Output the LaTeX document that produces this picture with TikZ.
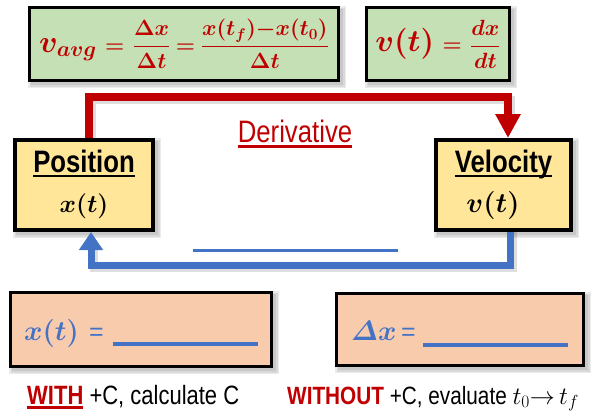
\RequirePackage{fix-cm}
\documentclass[tikz,border=0pt]{standalone}
\usepackage{fontspec}
\setmainfont{Liberation Sans}
\newfontfamily\nar{Liberation Sans}[FakeStretch=0.83]
\usetikzlibrary{arrows.meta,backgrounds}
\definecolor{myred}{HTML}{C00000}
\definecolor{myblue}{HTML}{4472C4}
\definecolor{mygreen}{HTML}{C5E0B4}
\definecolor{myyellow}{HTML}{FFE699}
\definecolor{mypeach}{HTML}{F8CBAD}
\newcommand\myul[3]{\setbox0\hbox{#1}\rlap{\rule[#2]{\wd0}{#3}}\box0}
\newcommand\bmth[1]{{\boldmath#1}}
\newcommand\itDelta{\mathchar"0101}
\newcommand\formA{\bmth{\fontsize{31}{31}\selectfont$v_{avg}$\fontsize{22}{22}\selectfont$\mkern6mu\mathord{=}\mkern6mu\displaystyle\frac{\Delta x}{\Delta t}\mkern4mu\mathord{=}\mkern4mu\frac{x(t_f){-}x(t_0)}{\Delta t}$}}
\newcommand\formB{\bmth{\fontsize{31}{31}\selectfont$v(t)$\fontsize{22}{22}\selectfont$\mkern6mu\mathord{=}\mkern6mu\displaystyle\frac{dx}{dt}$}}
\begin{document}
\begin{tikzpicture}[x=1pt,y=-1pt,
  boxbase/.style={draw=black, inner sep=0pt},
  greenbox/.style={boxbase, line width=3pt, fill=mygreen},
  yellowbox/.style={boxbase, line width=4pt, fill=myyellow},
  peachbox/.style={boxbase, line width=3pt, fill=mypeach},
  redarrow/.style={draw=myred, line width=8pt, -{Triangle[width=24pt,length=24pt]}},
  bluearrow/.style={draw=myblue, line width=7pt, -{Triangle[width=23pt,length=18pt]}},
  shadowline/.style={draw=black, opacity=0.13, line width=8pt},
  shadowbox/.style={fill=black, opacity=0.08},
  blank/.style={draw=myblue, line width=4pt},
  lbl/.style={inner sep=0pt, anchor=base},
]
\useasboundingbox (0,0) rectangle (599,415);
% top formula boxes
\node[greenbox, minimum width=309pt, minimum height=73pt, text=myred] (avg) at (184,44) {\formA};
\node[greenbox, minimum width=143pt, minimum height=73pt, text=myred] (def) at (438,44) {\formB};
% position and velocity boxes
\node[yellowbox, minimum width=138pt, minimum height=90pt] (pos) at (84,185) {};
\node[yellowbox, minimum width=135pt, minimum height=90pt] (vel) at (503.5,185) {};
\node[lbl] (posT) at (84,172) {\fontsize{31}{31}\selectfont\nar\bfseries\myul{Position}{-5.3pt}{2.4pt}};
\node[lbl] (posM) at (84,212) {\fontsize{25}{25}\selectfont\bmth{$x(t)$}};
\node[lbl] (velT) at (503.5,172) {\fontsize{31}{31}\selectfont\nar\bfseries\myul{Velocity}{-5.3pt}{2.4pt}};
\node[lbl] (velM) at (493,212) {\fontsize{28}{28}\selectfont\bmth{$v(t)$}};
% bottom boxes
\node[peachbox, minimum width=261pt, minimum height=74pt] (lb) at (141,329.5) {};
\node[peachbox, minimum width=247pt, minimum height=72pt] (rb) at (460,329.5) {};
% connectors
\draw[redarrow] ([xshift=5pt]pos.north) -- ++(0,-41) -| ([xshift=4.5pt]vel.north);
\draw[bluearrow] ([xshift=6.5pt]vel.south) -- ++(0,33) -| ([xshift=7pt]pos.south);
% shadows
\begin{scope}[on background layer]
  \foreach \n in {avg,def,pos,vel,lb,rb}
    \foreach \k in {0,1.5,3}
      \fill[shadowbox] ([shift={(3-\k,3-\k)}]\n.north west) rectangle ([shift={(3+\k,3+\k)}]\n.south east);
  \draw[shadowline] ([shift={(7.5,0)}]pos.north) -- ++(0,-38.5) -| ([shift={(7,-24)}]vel.north);
  \draw[shadowline] ([shift={(9,0)}]vel.south) -- ++(0,35.5) -| ([shift={(9.5,18)}]pos.south);
\end{scope}
\node[lbl, text=myred] (der) at (295,142) {\fontsize{31}{31}\selectfont\nar\myul{Derivative}{-5.5pt}{3pt}};
\coordinate (m1) at (193,250);
\coordinate (m2) at (398,250);
\draw[myblue, line width=3pt] (m1) -- (m2);
\node[lbl, anchor=base west, text=myblue] (lx) at (24,340) {\fontsize{28}{28}\selectfont\bmth{$x(t)$}};
\node[lbl, anchor=base west, text=myblue] (le) at (89,340) {\fontsize{25}{25}\selectfont =};
\coordinate (l1) at (113,344);
\coordinate (l2) at (258,344);
\draw[blank] (l1) -- (l2);
\node[lbl, anchor=base west, text=myblue] (rx) at (351,340) {\fontsize{28}{28}\selectfont\bmth{$\itDelta x$}};
\node[lbl, anchor=base west, text=myblue] (re) at (401,340) {\fontsize{25}{25}\selectfont =};
\coordinate (r1) at (423,345);
\coordinate (r2) at (568,345);
\draw[blank] (r1) -- (r2);
% bottom captions
\node[lbl, anchor=base west] (cw) at (27,404) {\fontsize{26.5}{26.5}\selectfont\nar{\bfseries\color{myred}\myul{WITH}{-4.7pt}{2.7pt}} +C, calculate C};
\node[lbl, anchor=base west] (cwo) at (287,404) {\fontsize{25}{25}\selectfont\nar{\bfseries\color{myred}WITHOUT} +C, evaluate \fontsize{25}{25}\selectfont$t_0{\to}\,t_f$};
\end{tikzpicture}
\end{document}
